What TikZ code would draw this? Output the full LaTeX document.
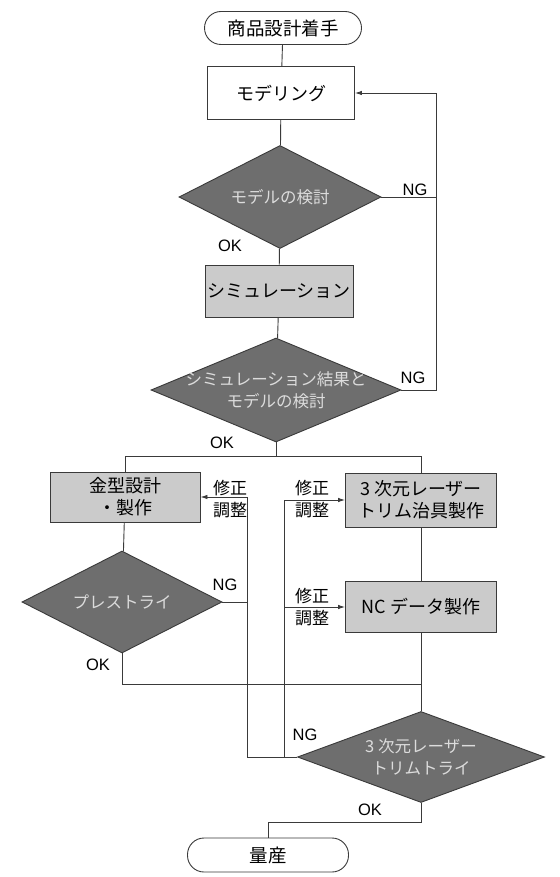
\documentclass[tikz,border=0pt]{standalone}
\usepackage{fontspec}
\setmainfont{Noto Sans CJK JP}
\newfontfamily\latinfont{Liberation Sans}
\usetikzlibrary{shapes.geometric,arrows.meta}
\definecolor{lc}{HTML}{3A3A3A}
\definecolor{boxgray}{HTML}{CBCBCB}
\definecolor{decgray}{HTML}{6E6E6E}
\definecolor{dtxt}{HTML}{DCDCDC}
\begin{document}
\begin{tikzpicture}[x=1pt,y=-1pt,line width=0.9pt,
  term/.style={draw=lc,fill=white,rounded corners=16.5pt,minimum width=157pt,minimum height=33pt,inner sep=0pt,font=\fontsize{18.5}{20}\selectfont},
  box/.style={draw=lc,fill=white,align=center,inner sep=0pt,font=\fontsize{18}{22}\selectfont},
  gbox/.style={box,fill=boxgray},
  dec/.style={diamond,draw=lc,fill=decgray,inner sep=0pt},
  dtext/.style={text=dtxt,align=center,inner sep=0pt,font=\fontsize{16.5}{22}\selectfont},
  lab/.style={inner sep=0pt,font=\latinfont\fontsize{16.5}{18}\selectfont},
  fix/.style={inner sep=0pt,align=center,font=\fontsize{17}{22}\selectfont},
  arr/.style={-{Latex[length=7pt,width=4.5pt]}}]
\useasboundingbox (0,0) rectangle (559,877);
\fill[white] (0,0) rectangle (559,877);
% nodes
\node[term] (start) at (283,28) {商品設計着手};
\node[box,minimum width=147pt,minimum height=53pt] (model) at (281,93) {モデリング};
\node[dec,minimum width=202pt,minimum height=103pt,label={[dtext]center:モデルの検討}] (d1) at (280,197) {};
\node[gbox,minimum width=148pt,minimum height=52pt] (sim) at (279,291) {シミュレーション};
\node[dec,minimum width=250pt,minimum height=104pt,label={[dtext]center:シミュレーション結果と\\モデルの検討}] (d2) at (276,390) {};
\node[gbox,minimum width=150pt,minimum height=50pt] (mold) at (125,497) {金型設計\\・製作};
\node[dec,minimum width=200pt,minimum height=102pt,label={[dtext]center:プレストライ}] (pre) at (122,602) {};
\node[gbox,minimum width=151pt,minimum height=54pt] (laser) at (421,500) {3 次元レーザー\\トリム治具製作};
\node[gbox,minimum width=151pt,minimum height=51pt] (nc) at (421,607) {NC データ製作};
\node[dec,minimum width=247pt,minimum height=91pt,label={[dtext]center:3 次元レーザー\\トリムトライ}] (trim) at (421,757) {};
\node[term,minimum width=161pt,minimum height=34pt] (end) at (268,855) {量産};
% helper coordinates
\coordinate (rx) at (436,0);
\coordinate (sy) at (0,456);
\coordinate (oky) at (0,684);
\coordinate (lx) at (247,0);
\coordinate (rx2) at (284,0);
\coordinate (ey) at (0,822);
% connectors
\begin{scope}[draw=lc]
\draw (start) -- (model);
\draw (model) -- (d1);
\draw (d1) -- (sim);
\draw (sim) -- (d2);
\draw (d1.east) -- (d1.east -| rx);
\draw[arr] (d2.east) -- (d2.east -| rx) -- (rx |- model.east) -- (model.east);
\draw (d2.south) -- (d2.south |- sy);
\draw (mold.north) -- (mold.north |- sy) -- (laser.north |- sy) -- (laser.north);
\draw (mold) -- (pre);
\draw (laser) -- (nc);
\draw (nc) -- (trim);
\draw (pre.south) -- (pre.south |- oky) -- (trim.north |- oky);
\draw[arr] (trim.west) -- (lx |- trim.west) -- (lx |- mold.east) -- (mold.east);
\draw (pre.east) -- (lx |- pre.east);
\draw[arr] (rx2 |- trim.west) -- (rx2 |- laser.west) -- (laser.west);
\draw[arr] (rx2 |- nc.west) -- (nc.west);
\draw (trim.south) -- (trim.south |- ey) -- (end.north |- ey) -- (end.north);
\end{scope}
% labels
\node[lab] (ng1) at (415,190) {NG};
\node[lab] (ok1) at (230,246) {OK};
\node[lab] (ng2) at (413,378) {NG};
\node[lab] (ok2) at (222,443) {OK};
\node[lab] (ng3) at (225,585) {NG};
\node[lab] (ok3) at (98,665) {OK};
\node[lab] (ng4) at (305,735) {NG};
\node[lab] (ok4) at (370,810) {OK};
\node[fix] (fx1) at (230,499) {修正\\調整};
\node[fix] (fx2) at (312,499) {修正\\調整};
\node[fix] (fx3) at (312,607) {修正\\調整};
\end{tikzpicture}
\end{document}
